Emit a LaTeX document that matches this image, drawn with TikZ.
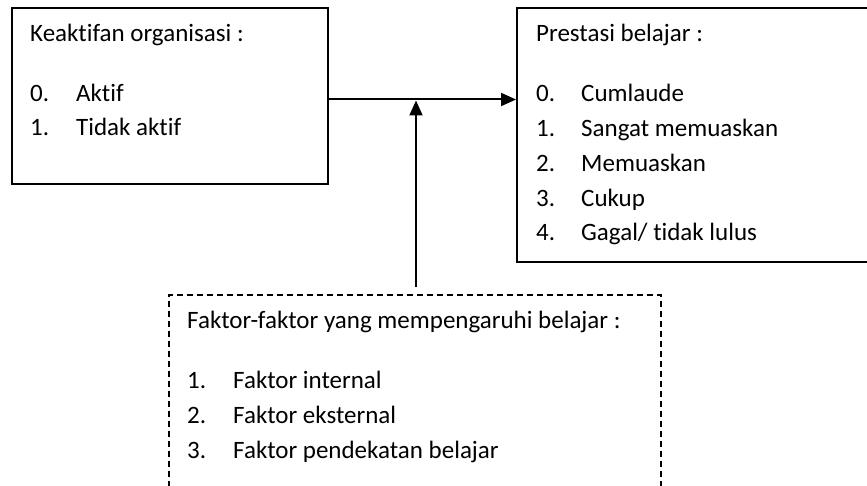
\documentclass[tikz,border=0pt]{standalone}
\usepackage{fontspec}
\setmainfont{Carlito}[Ligatures=NoCommon]
\usetikzlibrary{arrows.meta}
\begin{document}
\begin{tikzpicture}[x=1pt,y=-1pt,
  kotak/.style={draw,line width=2pt,rectangle,anchor=north west,inner sep=0pt},
  teks/.style={anchor=base west,inner sep=0pt,font=\fontsize{25}{30}\selectfont},
  panah/.style={line width=2pt,-{Triangle[length=15pt,width=13pt]}}]
\useasboundingbox (0,0) rectangle (867,486);
\clip (0,0) rectangle (867,486);

% kotak-kotak
\node[kotak,minimum width=316pt,minimum height=176pt] (kiri) at (11,7) {};
\node[kotak,minimum width=370pt,minimum height=254pt] (kanan) at (516,7) {};
\node[kotak,line width=1.8pt,dash pattern=on 6pt off 4pt,
      minimum width=492pt,minimum height=230pt] (faktor) at (168,294) {};

% isi kotak kiri
\node[teks] (kiri-judul) at (30,42) {Keaktifan organisasi :};
\foreach \isi [count=\i from 0] in {Aktif, Tidak aktif}{
  \node[teks] (kiri-no\i) at (30,102+34*\i) {\i.};
  \node[teks] (kiri-isi\i) at (76,102+34*\i) {\isi};
}

% isi kotak kanan
\node[teks] (kanan-judul) at (536,42) {Prestasi belajar :};
\foreach \isi [count=\i from 0] in {Cumlaude, Sangat memuaskan, Memuaskan, Cukup, {Gagal/ tidak lulus}}{
  \node[teks] (kanan-no\i) at (536,102+34.75*\i) {\i.};
  \node[teks] (kanan-isi\i) at (581,102+34.75*\i) {\isi};
}

% isi kotak putus-putus
\node[teks] (faktor-judul) at (187,328) {Faktor-faktor yang mempengaruhi belajar :};
\foreach \isi [count=\i from 1] in {Faktor internal, Faktor eksternal, Faktor pendekatan belajar}{
  \node[teks] (faktor-no\i) at (187,388+35*\i-35) {\i.};
  \node[teks] (faktor-isi\i) at (233,388+35*\i-35) {\isi};
}

% panah
\coordinate (temu) at (416,99.5);
\draw[panah] (kiri.east |- temu) -- (kanan.west |- temu);
\draw[panah,shorten <=7pt,shorten >=1pt] (faktor.north -| temu) -- (temu);
\end{tikzpicture}
\end{document}
